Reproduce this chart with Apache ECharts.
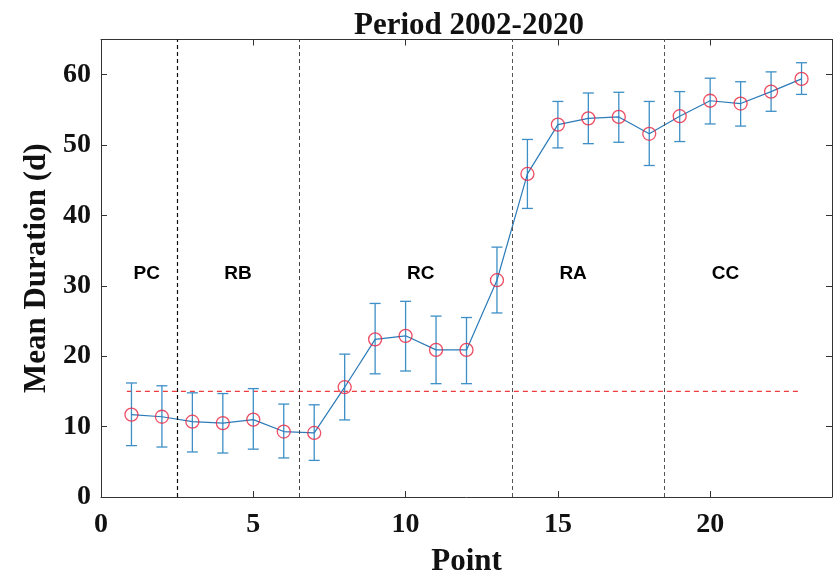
<!DOCTYPE html>
<html>
<head>
<meta charset="utf-8">
<script src="https://cdn.jsdelivr.net/npm/echarts@6/dist/echarts.min.js"></script>
<style>html,body{margin:0;padding:0;background:#fff;overflow:hidden;}#c{width:838px;height:582px;}</style>
</head>
<body>
<div id="c"></div>
<script>
// ---- data ----
var points = [1,2,3,4,5,6,7,8,9,10,11,12,13,14,15,16,17,18,19,20,21,22,23];
var meanDur = [11.7,11.4,10.7,10.5,11.0,9.3,9.1,15.6,22.4,22.9,20.9,20.9,30.8,45.9,52.9,53.8,54.0,51.6,54.1,56.3,55.9,57.6,59.4];
var upperVal = [16.2,15.8,14.8,14.7,15.4,13.2,13.1,20.3,27.5,27.8,25.7,25.5,35.5,50.8,56.2,57.4,57.5,56.2,57.6,59.5,59.0,60.4,61.7];
var lowerVal = [7.3,7.1,6.4,6.25,6.8,5.55,5.2,10.95,17.5,17.9,16.1,16.1,26.15,41.0,49.6,50.2,50.4,47.1,50.5,53.0,52.7,54.8,57.2];
var boundaries = [2.5,6.5,13.5,18.5];
var threshold = 15;
var thresholdRange = [0.85,22.9];
var regionNames = ['PC','RB','RC','RA','CC'];
var regionX = [1.5,4.5,10.5,15.5,20.5];
var regionY = 31.7;
var xTicks = [0,5,10,15,20];
var yTicks = [0,10,20,30,40,50,60];

var serif = '"Liberation Serif","Times New Roman",serif';
var sans = '"Liberation Sans",Arial,sans-serif';
var axisColor = '#333';
var barColor = '#3d8fc6';
var lineColor = '#2b7bb9';
var circColor = '#e8233f';
var threshColor = '#f03c3c';

var chart = echarts.init(document.getElementById('c'), null, {renderer:'canvas'});

var errData = points.map(function(p,i){return [p, lowerVal[i], upperVal[i]];});
var lineData = points.map(function(p,i){return [p, meanDur[i]];});
var threshData = thresholdRange.map(function(x){return [x, threshold];});
var labelData = regionNames.map(function(n,i){return {name:n, value:[regionX[i], regionY]};});

function baseAxis(extra){
  var a = {
    type:'value',
    splitLine:{show:false},
    axisLine:{show:true, onZero:false, lineStyle:{color:axisColor, width:1}},
    axisTick:{show:true, inside:true, length:6, lineStyle:{color:axisColor}},
  };
  for (var k in extra) a[k]=extra[k];
  return a;
}

var option = {
  backgroundColor:'#fff',
  animation:false,
  title:{
    text:'Period 2002-2020',
    left:349, top:5,
    textStyle:{fontFamily:serif, fontWeight:'bold', fontSize:31, color:'#111'}
  },
  grid:{left:101, right:6, top:39.5, bottom:78.5, containLabel:false},
  xAxis:[
    baseAxis({min:0, max:24, interval:5, position:'bottom',
      name:'Point', nameLocation:'middle', nameGap:49,
      nameTextStyle:{fontFamily:serif, fontWeight:'bold', fontSize:31, color:'#111'},
      axisLabel:{show:true, margin:14, showMaxLabel:false, fontFamily:serif, fontWeight:'bold', fontSize:28, color:'#111',
        formatter:function(v){return xTicks.indexOf(v)>=0? String(v):'';}}}),
    baseAxis({min:0, max:24, interval:5, position:'top', axisLabel:{show:false}})
  ],
  yAxis:[
    baseAxis({min:0, max:65, interval:10, position:'left',
      name:'Mean Duration (d)', nameLocation:'middle', nameGap:43, nameRotate:90,
      nameTextStyle:{fontFamily:serif, fontWeight:'bold', fontSize:31, color:'#111'},
      axisLabel:{show:true, margin:10, showMaxLabel:false, fontFamily:serif, fontWeight:'bold', fontSize:28, color:'#111',
        formatter:function(v){return yTicks.indexOf(v)>=0? String(v):'';}}}),
    baseAxis({min:0, max:65, interval:10, position:'right', axisLabel:{show:false}})
  ],
  series:[
    {
      type:'custom', name:'error', xAxisIndex:0, yAxisIndex:0,
      data:errData, z:2, silent:true,
      renderItem:function(params, api){
        var x = api.value(0), lo = api.value(1), hi = api.value(2);
        var pLo = api.coord([x, lo]);
        var pHi = api.coord([x, hi]);
        var w = 5.5;
        var st = {stroke:barColor, lineWidth:1.3};
        return {type:'group', children:[
          {type:'line', shape:{x1:pLo[0], y1:pLo[1], x2:pHi[0], y2:pHi[1]}, style:st},
          {type:'line', shape:{x1:pHi[0]-w, y1:pHi[1], x2:pHi[0]+w, y2:pHi[1]}, style:st},
          {type:'line', shape:{x1:pLo[0]-w, y1:pLo[1], x2:pLo[0]+w, y2:pLo[1]}, style:st}
        ]};
      },
      markLine:{
        silent:true, symbol:['none','none'], label:{show:false},
        data:[
          {xAxis:boundaries[0], lineStyle:{color:'#111', type:[4,3], width:1.2}},
          {xAxis:boundaries[1], lineStyle:{color:'#444', type:[4,3], width:1}},
          {xAxis:boundaries[2], lineStyle:{color:'#555', type:[4,3], width:1}},
          {xAxis:boundaries[3], lineStyle:{color:'#555', type:[4,3], width:1}}
        ]
      }
    },
    {
      type:'line', name:'threshold', data:threshData, z:1, silent:true,
      symbol:'none', lineStyle:{color:threshColor, type:[5,4], width:1.3}
    },
    {
      type:'line', name:'mean', data:lineData, z:3, silent:true,
      symbol:'none', lineStyle:{color:lineColor, width:1.2}
    },
    {
      type:'scatter', name:'markers', data:lineData, z:4, silent:true,
      symbol:'circle', symbolSize:13,
      itemStyle:{color:'rgba(0,0,0,0)', borderColor:circColor, borderWidth:1.3}
    },
    {
      type:'scatter', name:'regions', data:labelData, z:5, silent:true,
      symbolSize:1, itemStyle:{color:'rgba(0,0,0,0)'},
      label:{show:true, position:'inside', formatter:'{b}', fontFamily:sans, fontWeight:'bold', fontSize:19,
        color:'#000', textBorderWidth:0, textBorderColor:'transparent', opacity:1}
    }
  ]
};
chart.setOption(option);
</script>
</body>
</html>
